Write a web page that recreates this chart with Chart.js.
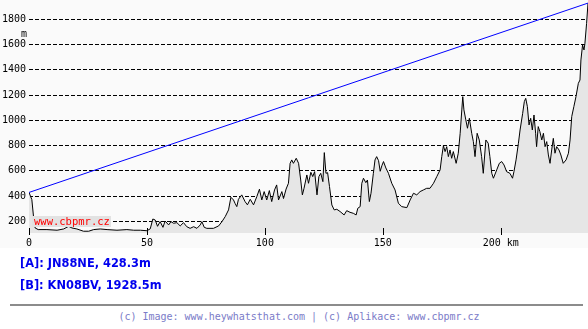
<!DOCTYPE html>
<html>
<head>
<meta charset="utf-8">
<script src="https://cdn.jsdelivr.net/npm/chart.js@4/dist/chart.umd.min.js"></script>
<style>
html,body{margin:0;padding:0;background:#ffffff;width:588px;height:329px;overflow:hidden;}
#wrap{position:absolute;left:0;top:0;width:588px;height:248px;background:#fafafa;}
#chart{display:block;}
#unit{position:absolute;left:21px;top:29px;font:10px "DejaVu Sans Mono",monospace;color:#000;line-height:10px;}
#wm{position:absolute;left:32px;top:216px;height:11px;padding:0 1px 0 2px;background:#e2e2e2;color:#ff0000;font:10.5px "DejaVu Sans Mono",monospace;line-height:11px;}
.pt{position:absolute;left:20px;font:bold 11.4px "DejaVu Sans",sans-serif;color:#0000ee;white-space:nowrap;line-height:13px;}
#ptA{top:257px;}
#ptB{top:279px;}
#rule{position:absolute;left:10px;top:304px;width:573px;height:2px;background:#8c8c8c;}
#foot{position:absolute;left:0;width:588px;top:311px;text-align:center;padding-left:10px;box-sizing:border-box;font:10px "DejaVu Sans Mono",monospace;color:#7b7bc8;line-height:12px;white-space:nowrap;}
</style>
</head>
<body>
<div id="wrap"><canvas id="chart" width="588" height="248"></canvas></div>
<div id="unit">m</div>
<div id="wm">www.cbpmr.cz</div>
<div class="pt" id="ptA">[A]: JN88NE, 428.3m</div>
<div class="pt" id="ptB">[B]: KN08BV, 1928.5m</div>
<div id="rule"></div>
<div id="foot">(c) Image: www.heywhatsthat.com | (c) Aplikace: www.cbpmr.cz</div>
<script>
// distance along path (km)
const distanceKm = [
  0, 1.2, 1.9, 2.6, 3.9, 7.6, 11.9, 14.7, 16.8, 18.2, 20.3, 23.1, 25.3, 27.4, 30.2, 33.1, 37.3, 41.5, 44.4, 47.2,
  50.0, 51.4, 52.5, 53.5, 54.5, 55.6, 56.8, 57.7, 59.2, 60.2, 61.3, 62.7, 64.1, 65.5, 66.9, 68.3, 69.8, 71.2, 72.6, 73.3,
  74.3, 75.4, 78.2, 80.4, 81.8, 83.2, 84.6, 85.6, 86.7, 87.4, 88.1, 88.8, 90.2, 91.6, 92.6, 93.8, 95.2, 96.6, 97.7, 98.7,
  99.7, 100.8, 101.9, 102.9, 104.1, 105.0, 105.8, 107.2, 107.9, 109.0, 110.0, 110.7, 111.4, 112.1, 113.3, 114.3, 115.2, 115.9, 116.6, 117.8,
  118.5, 119.5, 120.3, 121.1, 122.1, 122.9, 123.7, 124.6, 125.2, 125.9, 126.6, 127.4, 128.4, 129.4, 130.5, 131.9, 133.6, 134.7, 136.1, 137.5,
  138.7, 139.4, 140.4, 141.1, 141.8, 142.8, 143.5, 144.3, 145.0, 146.0, 146.7, 147.4, 148.2, 148.9, 149.6, 150.3, 151.3, 152.4, 153.8, 155.2,
  156.6, 158.0, 160.2, 161.6, 163.0, 164.4, 165.8, 167.2, 168.6, 170.0, 171.5, 172.9, 174.3, 175.0, 175.7, 176.4, 177.1, 177.8, 178.5, 179.2,
  179.9, 181.1, 182.0, 182.8, 183.5, 183.9, 184.4, 185.2, 185.9, 186.7, 187.7, 188.4, 189.1, 190.0, 190.9, 191.9, 192.6, 193.7, 194.7, 195.4,
  196.2, 196.9, 198.3, 199.4, 200.4, 201.4, 202.5, 203.9, 205.0, 205.6, 206.5, 207.5, 208.2, 209.3, 210.0, 210.6, 211.3, 212.0, 212.7, 213.4,
  214.1, 214.8, 215.2, 215.9, 216.6, 217.4, 218.1, 218.8, 219.5, 220.2, 220.9, 221.6, 222.3, 223.0, 223.7, 224.7, 225.5, 226.5, 227.7, 228.7,
  229.4, 230.1, 231.0, 231.9, 232.9, 233.6, 234.0, 234.7, 235.3, 235.7, 236.4, 237.0
];
// terrain elevation (m)
const elevationM = [
  428.3, 372, 240, 147, 134, 134, 129, 139, 160, 147, 139, 121, 121, 134, 139, 134, 129, 134, 129, 129,
  125, 140, 218, 210, 160, 197, 152, 202, 171, 197, 184, 189, 163, 189, 157, 144, 157, 144, 171, 197,
  152, 144, 144, 163, 197, 237, 290, 390, 369, 340, 316, 374, 409, 356, 330, 374, 330, 396, 454, 369,
  435, 369, 443, 356, 448, 488, 369, 435, 380, 455, 501, 659, 686, 659, 699, 659, 527, 409, 461, 567,
  501, 588, 554, 593, 409, 554, 580, 514, 744, 580, 585, 475, 329, 290, 295, 277, 250, 284, 271, 263,
  250, 303, 316, 501, 541, 506, 527, 356, 422, 580, 686, 712, 680, 596, 640, 673, 622, 580, 501, 448,
  343, 316, 308, 369, 422, 409, 435, 448, 461, 461, 501, 554, 607, 712, 799, 752, 791, 712, 765, 699,
  752, 659, 739, 897, 1082, 1187, 1082, 1003, 937, 1016, 897, 831, 712, 897, 844, 712, 580, 844, 818, 712,
  580, 541, 607, 659, 673, 646, 593, 580, 541, 593, 686, 818, 923, 1055, 1148, 1174, 1108, 963, 1016, 923,
  1042, 897, 791, 950, 910, 844, 897, 791, 831, 725, 659, 765, 857, 739, 791, 765, 725, 659, 686, 739,
  844, 1029, 1108, 1187, 1293, 1319, 1478, 1597, 1557, 1610, 1768, 1928.5
];
// line of sight between A and B
const sightKm = [0, 237.0];
const sightM = [428.3, 1928.5];
const yTickValues = [200, 400, 600, 800, 1000, 1200, 1400, 1600, 1800];
const xTickValues = [0, 50, 100, 150, 200];
const xTickLabels = ['0', '50', '100', '150', '200 km'];

const monoFont = {family: '"DejaVu Sans Mono", monospace', size: 10};

const tickMarks = {
  id: 'tickMarks',
  afterDraw(chart) {
    const ctx = chart.ctx, xs = chart.scales.x, b = chart.chartArea.bottom;
    ctx.save();
    ctx.strokeStyle = '#000';
    ctx.lineWidth = 1;
    xs.ticks.forEach(t => {
      const px = Math.round(xs.getPixelForValue(t.value)) + 0.5;
      ctx.beginPath();
      ctx.moveTo(px, b - 5);
      ctx.lineTo(px, b + 2);
      ctx.stroke();
    });
    ctx.restore();
  }
};

function noPad(s) {
  s.paddingTop = 0; s.paddingBottom = 0; s.paddingLeft = 0; s.paddingRight = 0;
}

new Chart(document.getElementById('chart'), {
  type: 'line',
  data: {
    datasets: [
      {
        data: sightKm.map((k, i) => ({x: k, y: sightM[i]})),
        borderColor: '#0000ff',
        borderWidth: 1,
        pointRadius: 0,
        fill: false,
        tension: 0
      },
      {
        data: distanceKm.map((k, i) => ({x: k, y: elevationM[i]})),
        borderColor: '#000000',
        borderWidth: 1,
        backgroundColor: '#e6e6e6',
        pointRadius: 0,
        fill: 'start',
        tension: 0
      }
    ]
  },
  options: {
    responsive: false,
    animation: false,
    events: [],
    layout: {padding: 0},
    plugins: {legend: {display: false}, tooltip: {enabled: false}},
    scales: {
      x: {
        type: 'linear',
        min: 0,
        max: 237.0,
        afterBuildTicks: s => { s.ticks = xTickValues.map(v => ({value: v})); },
        afterFit: s => { s.height = 15; noPad(s); },
        grid: {display: false, drawTicks: false},
        border: {display: false},
        ticks: {
          font: monoFont,
          color: '#000',
          padding: 4,
          maxRotation: 0,
          autoSkip: false,
          callback: (v, i) => xTickLabels[i]
        }
      },
      y: {
        type: 'linear',
        min: 107,
        max: 1953,
        z: 1,
        afterBuildTicks: s => { s.ticks = yTickValues.map(v => ({value: v})); },
        afterFit: s => { s.width = 29; noPad(s); },
        grid: {color: '#000', lineWidth: 1, drawTicks: false},
        border: {display: false, dash: [4, 2]},
        ticks: {
          font: monoFont,
          color: '#000',
          padding: 3,
          callback: v => String(v)
        }
      }
    }
  },
  plugins: [tickMarks]
});
</script>
</body>
</html>
